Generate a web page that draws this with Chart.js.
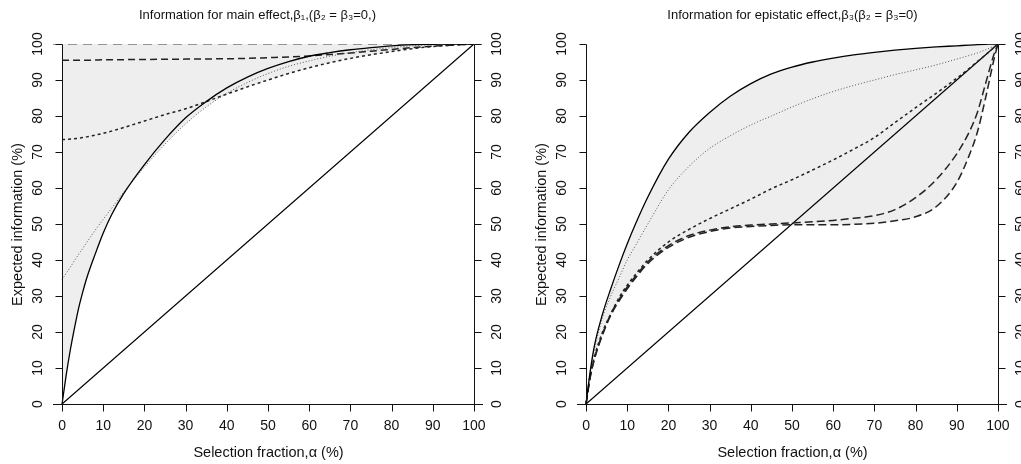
<!DOCTYPE html>
<html>
<head>
<meta charset="utf-8">
<script src="https://cdn.jsdelivr.net/npm/chart.js@4/dist/chart.umd.min.js"></script>
<style>
  body { margin: 0; background: #fff; }
  #wrap { position: relative; width: 1021px; height: 464px; overflow: hidden; }
  canvas { position: absolute; top: 0; }
  #main-chart { left: 0; }
  #epi-chart { left: 520px; }
</style>
</head>
<body>
<div id="wrap">
  <canvas id="main-chart" width="520" height="464"></canvas>
  <canvas id="epi-chart" width="501" height="464"></canvas>
</div>
<script>
// Selection fraction grid and expected information (%)
const alphaMain = [0, 1, 2, 3, 4, 5, 6, 8, 10, 12, 15, 20, 25, 30, 35, 40, 45, 50, 55, 60, 65, 70, 75, 80, 85, 90, 95, 100];
const mainSolid = [0, 8, 15, 21, 26.5, 31, 35, 41.5, 47.5, 52.5, 58.5, 66.5, 73.5, 79.5, 84, 87.8, 90.8, 93.2, 95.1, 96.6, 97.6, 98.4, 99, 99.5, 99.8, 99.9, 100, 100];
const mainDotted = [34.5, 36.3, 38, 39.8, 41.5, 43.2, 44.9, 48.2, 51.3, 54.3, 58.9, 65.8, 72.2, 77.8, 82.5, 86.3, 89.3, 91.8, 93.8, 95.3, 96.6, 97.6, 98.4, 99, 99.5, 99.8, 100, 100];
const mainShortDash = [73.5, 73.5, 73.6, 73.7, 73.8, 74, 74.2, 74.7, 75.2, 75.8, 76.8, 78.6, 80.4, 82, 84, 86.1, 88.1, 90, 91.8, 93.4, 94.8, 96, 97, 97.9, 98.7, 99.3, 99.7, 100];
const mainLongDash = [95.5, 95.5, 95.5, 95.5, 95.5, 95.5, 95.5, 95.55, 95.6, 95.6, 95.65, 95.7, 95.75, 95.8, 95.85, 95.9, 96, 96.2, 96.4, 96.7, 97.1, 97.5, 98, 98.5, 99, 99.4, 99.7, 100];
const topLineX = [-2.2, 102.2];
const topLineY = [100, 100];

const alphaEpi = [0, 1, 2, 4, 6, 8, 10, 12, 15, 20, 25, 30, 35, 40, 45, 50, 55, 60, 65, 70, 75, 80, 85, 90, 93, 95, 97, 99, 100];
const epiSolid = [0, 9, 16, 25, 32, 38.5, 44.5, 50, 57.5, 68, 75.5, 81, 85.5, 89, 91.7, 93.6, 95, 96.1, 97, 97.7, 98.3, 98.8, 99.2, 99.5, 99.7, 99.8, 99.9, 100, 100];
const epiDotted = [0, 9, 15, 24, 30, 35, 40, 44, 50, 59.5, 66, 71, 74.5, 77.5, 80, 82.5, 84.8, 86.8, 88.5, 90, 91.5, 92.8, 94.2, 95.8, 96.8, 97.5, 98.4, 99.4, 100];
const epiShortDash = [0, 8, 13, 20, 25, 29.5, 33, 36, 40, 45, 48.5, 51.5, 54.2, 56.9, 59.8, 62.3, 65, 67.8, 70.8, 74, 78.2, 82.3, 86.3, 90.5, 93.2, 95.1, 97, 99, 100];
const epiLongDashA = [0, 7.5, 12.5, 19.5, 25, 29, 32.5, 35.5, 39.5, 44, 46.8, 48.3, 49.2, 49.7, 50, 50.3, 50.6, 51, 51.6, 52.3, 54, 57.3, 62.3, 69.5, 75.5, 81, 89, 97, 100];
const epiLongDashB = [0, 7.3, 12.3, 19.2, 24.6, 28.6, 32, 35, 39, 43.5, 46.3, 47.9, 48.9, 49.3, 49.6, 49.8, 49.8, 49.8, 49.9, 50.2, 50.9, 52, 54.8, 61.5, 69, 75.5, 85, 95.5, 100];

const diagX = [0, 100];
const diagY = [0, 100];

const xTicks = [0, 10, 20, 30, 40, 50, 60, 70, 80, 90, 100];
const yTicks = [0, 10, 20, 30, 40, 50, 60, 70, 80, 90, 100];

const SHADE = '#eeeeee';
const FONT = '"Liberation Sans", Arial, Helvetica, sans-serif';

function pts(xs, ys) {
    return xs.map((x, i) => ({x: x, y: ys[i]}));
}

function curve(xs, ys, color, dash, width, extra) {
    return Object.assign({
        data: pts(xs, ys),
        borderColor: color,
        borderWidth: width,
        borderDash: dash,
        pointRadius: 0,
        fill: false,
        cubicInterpolationMode: 'monotone'
    }, extra || {});
}

// draws the R-style axes, ticks, rotated labels and titles
const frame = {
    id: 'frame',
    afterDraw(chart, args, opts) {
        const ctx = chart.ctx;
        const x = chart.scales.x, y = chart.scales.y;
        const area = chart.chartArea;
        const y0 = Math.round(y.getPixelForValue(0)) + 0.5;
        const y100 = Math.round(y.getPixelForValue(100)) + 0.5;
        const xl = Math.round(x.getPixelForValue(0)) + 0.5;
        const xr = Math.round(x.getPixelForValue(100)) + 0.5;
        ctx.save();
        ctx.strokeStyle = '#111';
        ctx.lineWidth = 1;
        ctx.beginPath();
        ctx.moveTo(area.left, y0); ctx.lineTo(area.right, y0);
        ctx.moveTo(xl, y0); ctx.lineTo(xl, y100);
        ctx.moveTo(xr, y0); ctx.lineTo(xr, y100);
        xTicks.forEach(v => {
            const px = Math.round(x.getPixelForValue(v)) + 0.5;
            ctx.moveTo(px, y0); ctx.lineTo(px, y0 + 7);
        });
        yTicks.forEach(v => {
            const py = Math.round(y.getPixelForValue(v)) + 0.5;
            ctx.moveTo(xl, py); ctx.lineTo(xl - 7, py);
            ctx.moveTo(xr, py); ctx.lineTo(xr + 7, py);
        });
        ctx.stroke();

        ctx.fillStyle = '#111';
        ctx.font = '14px ' + FONT;
        ctx.textAlign = 'center';
        ctx.textBaseline = 'middle';
        xTicks.forEach(v => {
            ctx.fillText(String(v), x.getPixelForValue(v), y0 + 22);
        });
        yTicks.forEach(v => {
            const py = y.getPixelForValue(v);
            [xl - 24, xr + 23].forEach(cx => {
                ctx.save();
                ctx.translate(cx, py);
                ctx.rotate(-Math.PI / 2);
                ctx.fillText(String(v), 0, 0);
                ctx.restore();
            });
        });

        const mid = (xl + xr) / 2;
        ctx.font = '14.5px ' + FONT;
        ctx.fillText('Selection fraction,α (%)', mid, y0 + 48);
        ctx.save();
        ctx.translate(xl - 45, (y0 + y100) / 2);
        ctx.rotate(-Math.PI / 2);
        ctx.fillText('Expected information (%)', 0, 0);
        ctx.restore();

        ctx.font = '13px ' + FONT;
        ctx.fillText(opts.title, mid + (opts.titleShift || 0), 15);
        ctx.restore();
    }
};

function baseOptions(padLeft, padRight, title, titleShift) {
    return {
        responsive: false,
        animation: false,
        layout: {padding: {left: padLeft, right: padRight, top: 44, bottom: 60}},
        scales: {
            x: {type: 'linear', min: -2.2, max: 102.2, display: false},
            y: {type: 'linear', min: 0, max: 100, display: false}
        },
        plugins: {
            legend: {display: false},
            tooltip: {enabled: false},
            filler: {drawTime: 'beforeDatasetsDraw'},
            frame: {title: title, titleShift: titleShift}
        }
    };
}

new Chart(document.getElementById('main-chart'), {
    type: 'line',
    data: {
        datasets: [
            curve(alphaMain, mainSolid, '#000', [], 1.3, {fill: 'end', backgroundColor: SHADE}),
            curve(alphaMain, mainDotted, '#555', [1, 2], 1, {fill: 'end', backgroundColor: SHADE}),
            curve(alphaMain, mainShortDash, '#222', [3, 3], 1.5, {fill: 'end', backgroundColor: SHADE}),
            curve(alphaMain, mainLongDash, '#222', [7, 4], 1.5, {fill: 'end', backgroundColor: SHADE}),
            curve(topLineX, topLineY, '#777', [9, 6], 1.6),
            curve(diagX, diagY, '#000', [], 1.2)
        ]
    },
    options: baseOptions(53, 37, 'Information for main effect,β\u2081,(β\u2082 = β\u2083=0,)', -11),
    plugins: [frame]
});

new Chart(document.getElementById('epi-chart'), {
    type: 'line',
    data: {
        datasets: [
            curve(alphaEpi, epiSolid, '#000', [], 1.3, {fill: 4, backgroundColor: SHADE}),
            curve(alphaEpi, epiDotted, '#555', [1, 2], 1),
            curve(alphaEpi, epiShortDash, '#222', [3, 3], 1.5),
            curve(alphaEpi, epiLongDashA, '#222', [8, 4], 1.5),
            curve(alphaEpi, epiLongDashB, '#222', [8, 4], 1.5),
            curve(diagX, diagY, '#000', [], 1.2)
        ]
    },
    options: baseOptions(57, 14, 'Information for epistatic effect,β\u2083(β\u2082 = β\u2083=0)', 0),
    plugins: [frame]
});
</script>
</body>
</html>
